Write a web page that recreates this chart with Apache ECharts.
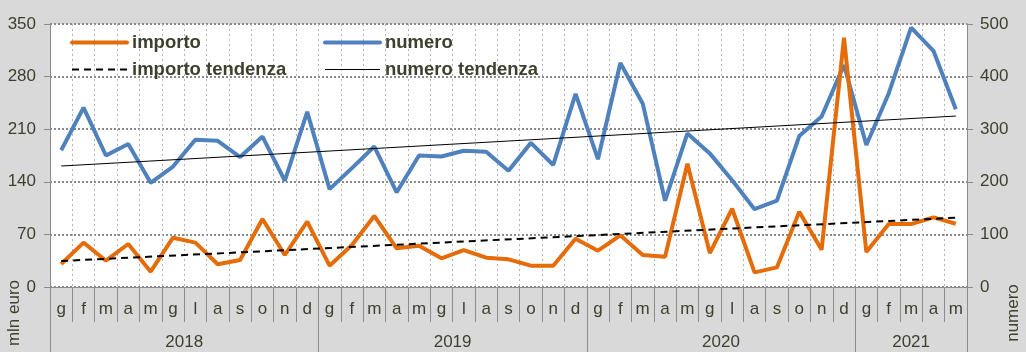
<!DOCTYPE html>
<html>
<head>
<meta charset="utf-8">
<script src="https://cdn.jsdelivr.net/npm/echarts@6/dist/echarts.min.js"></script>
<style>
html,body{margin:0;padding:0;background:#d9d9d9;}
#c{width:1026px;height:352px;}
</style>
</head>
<body>
<div id="c"></div>
<script>
// ---- data ----
const monthNames = ['g','f','m','a','m','g','l','a','s','o','n','d'];
const years = ['2018','2019','2020','2021'];
const monthsPerYear = [12, 12, 12, 5];
const importo = [30.6,59,35,57.2,20.4,65.6,59,30.2,36,90.5,42.6,87,
                 28.4,55.9,94.5,51.5,55,38.2,49.2,39,36.8,28.4,28.4,64.3,
                 48.3,68.8,42.6,40.3,163.9,45.2,104.1,19.5,26.1,100.1,49.6,331.8,
                 46.5,83.7,83.7,92.6,84.2];
const numero = [260,341,250,272,198,229,280,278,247,286,202,333,
                186,226,267,180,250,248,259,257,221,274,232,367,
                243,426,349,164,292,254,203,148,164,287,324,422,
                270,368,493,449,338];
const importoTrend = [34.6, 92.2];   // first and last month
const numeroTrend = [230, 325];
const leftTicks = {min: 0, max: 350, interval: 70};
const rightTicks = {min: 0, max: 500, interval: 100};

// ---- build axes ----
const categories = [];
monthsPerYear.forEach(n => { for (let i = 0; i < n; i++) categories.push(monthNames[i]); });
const nMonths = categories.length;
// half-month points for the year axis
const yearPoints = new Array(nMonths * 2 + 1).fill('');
const yearBounds = new Set([0]);
const yearLabelIdx = new Set();
let acc = 0;
monthsPerYear.forEach((n, k) => {
  const c = acc * 2 + n;
  yearPoints[c] = years[k];
  yearLabelIdx.add(c);
  acc += n;
  yearBounds.add(acc * 2);
});

const txt = '#3f3f2f';
const font = 'Liberation Sans, Arial, sans-serif';
const ORANGE = '#e46c0a', BLUE = '#4f81bd';
const legendText = {fontSize: 18.5, fontWeight: 'bold', color: txt, fontFamily: font, lineHeight: 18};
const chart = echarts.init(document.getElementById('c'));
chart.setOption({
  backgroundColor: '#d9d9d9',
  animation: false,
  grid: {left: 50, right: 59, top: 24, bottom: 65, show: true, backgroundColor: '#ffffff', borderWidth: 0},
  legend: [
    {left: 70, top: 33, orient: 'vertical', padding: 0, itemWidth: 55, itemHeight: 14, itemGap: 8,
     itemStyle: {opacity: 0},
     data: [{name: 'importo', lineStyle: {color: ORANGE, width: 4, cap: 'round'}},
            {name: 'importo tendenza', lineStyle: {color: '#000', width: 2, type: [7, 5]}}],
     textStyle: legendText},
    {left: 323, top: 33, orient: 'vertical', padding: 0, itemWidth: 55, itemHeight: 14, itemGap: 8,
     itemStyle: {opacity: 0},
     data: [{name: 'numero', lineStyle: {color: BLUE, width: 4, cap: 'round'}},
            {name: 'numero tendenza', lineStyle: {color: '#000', width: 1}}],
     textStyle: legendText}
  ],
  xAxis: [
    {type: 'category', data: categories, boundaryGap: true, position: 'bottom',
     axisLine: {show: true, lineStyle: {color: '#8c8c8c', width: 1}},
     axisTick: {show: true, interval: 0, length: 35, lineStyle: {color: '#8c8c8c'}},
     axisLabel: {interval: 0, margin: 14, fontSize: 17, color: txt, fontFamily: font},
     splitLine: {show: true, interval: 0, lineStyle: {color: '#b4b4b4', type: [2, 3], width: 1}}},
    {type: 'category', data: yearPoints, boundaryGap: false, position: 'bottom',
     axisLine: {show: false},
     axisTick: {show: true, length: 65, interval: (i) => yearBounds.has(i), lineStyle: {color: '#8c8c8c'}},
     axisLabel: {margin: 47, fontSize: 17, color: txt, fontFamily: font, interval: (i) => yearLabelIdx.has(i)},
     splitLine: {show: false}}
  ],
  yAxis: [
    {type: 'value', min: leftTicks.min, max: leftTicks.max, interval: leftTicks.interval, position: 'left',
     axisLine: {show: true, lineStyle: {color: '#8c8c8c'}},
     axisTick: {show: true, length: 6, lineStyle: {color: '#8c8c8c'}},
     axisLabel: {margin: 14, fontSize: 17, color: txt, fontFamily: font},
     splitLine: {show: true, lineStyle: {color: '#8a8a8a', type: [2, 2], width: 2}}},
    {type: 'value', min: rightTicks.min, max: rightTicks.max, interval: rightTicks.interval, position: 'right',
     axisLine: {show: true, lineStyle: {color: '#8c8c8c'}},
     axisTick: {show: true, length: 6, lineStyle: {color: '#8c8c8c'}},
     axisLabel: {margin: 13, fontSize: 17, color: txt, fontFamily: font},
     splitLine: {show: false}}
  ],
  graphic: [
    {type: 'text', x: 14, y: 313, rotation: Math.PI / 2,
     style: {text: 'mln euro', font: '17px ' + font, fill: txt, textAlign: 'center', textVerticalAlign: 'middle'}},
    {type: 'text', x: 1013, y: 313, rotation: Math.PI / 2,
     style: {text: 'numero', font: '17px ' + font, fill: txt, textAlign: 'center', textVerticalAlign: 'middle'}}
  ],
  series: [
    {name: 'numero', type: 'line', yAxisIndex: 1, data: numero, symbol: 'none',
     itemStyle: {color: BLUE}, lineStyle: {color: BLUE, width: 4}},
    {name: 'importo', type: 'line', yAxisIndex: 0, data: importo, symbol: 'none',
     itemStyle: {color: ORANGE}, lineStyle: {color: ORANGE, width: 4}},
    {name: 'importo tendenza', type: 'line', yAxisIndex: 0, symbol: 'none',
     data: [[0, importoTrend[0]], [nMonths - 1, importoTrend[1]]],
     itemStyle: {color: '#000'}, lineStyle: {color: '#000', width: 2, type: [7, 5]}},
    {name: 'numero tendenza', type: 'line', yAxisIndex: 1, symbol: 'none',
     data: [[0, numeroTrend[0]], [nMonths - 1, numeroTrend[1]]],
     itemStyle: {color: '#000'}, lineStyle: {color: '#000', width: 1}}
  ]
});
</script>
</body>
</html>
